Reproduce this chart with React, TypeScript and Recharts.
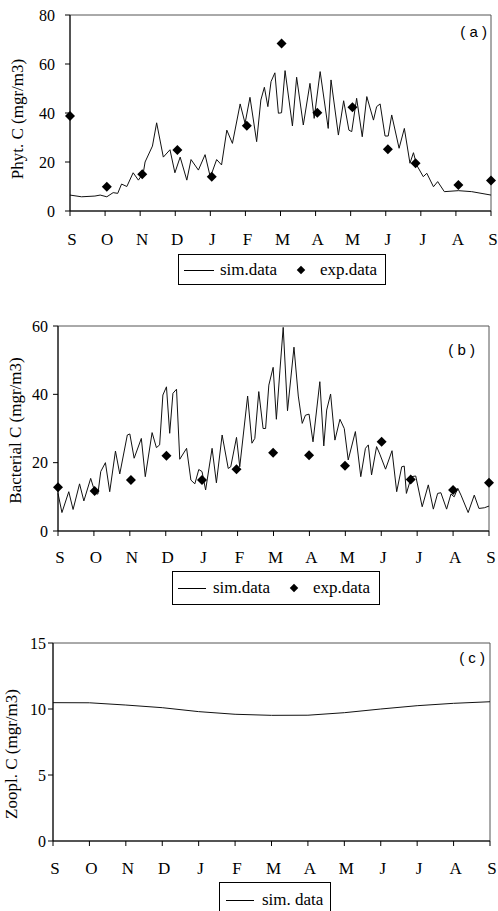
import React from 'react';
import { ComposedChart, Line, Scatter, XAxis, YAxis, ReferenceArea } from 'recharts';

// ---------- data ----------
const MONTHS = ['S', 'O', 'N', 'D', 'J', 'F', 'M', 'A', 'M', 'J', 'J', 'A', 'S'];
const MONTH_TICKS = [0, 1, 2, 3, 4, 5, 6, 7, 8, 9, 10, 11, 12];

// (a) Phytoplankton C
const simA_t = [0, 0.33, 0.71, 0.86, 1.05, 1.23, 1.36, 1.47, 1.62, 1.8, 1.95, 2.09, 2.14, 2.35, 2.47, 2.66, 2.85, 2.99, 3.14, 3.33, 3.45, 3.66, 3.85, 4.0, 4.18, 4.32, 4.47, 4.63, 4.85, 4.99, 5.13, 5.32, 5.44, 5.54, 5.64, 5.73, 5.84, 5.94, 6.03, 6.13, 6.34, 6.46, 6.65, 6.84, 6.96, 7.13, 7.36, 7.44, 7.65, 7.8, 7.95, 8.03, 8.17, 8.33, 8.46, 8.65, 8.74, 8.84, 8.98, 9.07, 9.17, 9.38, 9.53, 9.69, 9.79, 9.88, 10.07, 10.17, 10.36, 10.48, 10.67, 11.07, 11.45, 12];
const simA_v = [6.5, 5.8, 6.1, 6.5, 5.8, 7.5, 7.2, 11, 10, 15.6, 12.6, 15.6, 20, 26.5, 36, 22, 25, 15.6, 22, 12.6, 21, 16.7, 23, 13.8, 21, 18.8, 33, 27.6, 43.7, 35.8, 46.4, 28.3, 45.3, 50.5, 42.6, 52.8, 56.4, 39.9, 40.1, 57.3, 34.7, 54.6, 35.1, 52.1, 37.8, 56.9, 33.7, 53.5, 31, 45, 33, 32.4, 46, 30.3, 46.7, 37.1, 42.6, 43.7, 30.6, 30.6, 39.2, 25.6, 33.7, 19.5, 23.8, 18.8, 14, 15.4, 9.9, 12, 7.9, 8.3, 7.9, 6.5];
const expA_t = [0, 1.05, 2.06, 3.06, 4.04, 5.04, 6.03, 7.05, 8.05, 9.06, 9.85, 11.07, 12];
const expA_v = [38.8, 9.9, 15, 24.9, 14, 34.8, 68.4, 40.1, 42.3, 25.2, 19.5, 10.6, 12.4];

// (b) Bacterial C
const simB_t = [0, 0.11, 0.3, 0.42, 0.6, 0.72, 0.91, 1.04, 1.11, 1.19, 1.32, 1.44, 1.6, 1.72, 1.93, 2.0, 2.12, 2.32, 2.43, 2.62, 2.74, 2.83, 2.92, 3.02, 3.11, 3.2, 3.3, 3.39, 3.58, 3.7, 3.81, 3.92, 4.01, 4.11, 4.29, 4.41, 4.57, 4.74, 4.81, 4.97, 5.06, 5.28, 5.4, 5.48, 5.59, 5.71, 5.78, 5.87, 5.99, 6.08, 6.18, 6.27, 6.39, 6.57, 6.69, 6.8, 6.89, 6.99, 7.1, 7.29, 7.4, 7.48, 7.59, 7.71, 7.85, 7.97, 8.08, 8.28, 8.43, 8.56, 8.64, 8.73, 8.87, 8.96, 9.12, 9.3, 9.43, 9.57, 9.64, 9.7, 9.84, 9.96, 10.14, 10.31, 10.45, 10.57, 10.66, 10.82, 10.94, 11.03, 11.13, 11.22, 11.42, 11.59, 11.72, 11.87, 12];
const simB_v = [11, 5.4, 11.5, 6.3, 13.8, 8.8, 15.4, 11, 10.8, 17.4, 20, 11.5, 23.4, 16.7, 28.1, 28.4, 21.3, 27.1, 15.9, 28.8, 24.4, 25.2, 39.8, 42.2, 28.6, 40.3, 41.5, 21, 24.2, 14.9, 13.8, 18, 17.4, 12, 24.2, 14.1, 28.1, 18.3, 18.8, 27.4, 18.8, 39.5, 25.7, 27.1, 40.8, 30, 30, 42.7, 47.9, 32.7, 47.1, 59.6, 35.2, 53.8, 39.5, 31.5, 33.9, 34.2, 26.1, 43.7, 24.9, 35.4, 40.1, 26.6, 32.7, 30, 20.8, 29.1, 15.9, 24.2, 25.2, 16.4, 24.7, 22.5, 18.1, 23.5, 11.5, 18.8, 19, 11, 15.9, 16.1, 7.1, 13.5, 6.4, 11, 11.2, 6.4, 10.8, 10, 12.5, 10.5, 5.4, 10.5, 6.6, 6.8, 7.3];
const expB_t = [0, 1.02, 2.03, 3.02, 4.01, 4.97, 5.99, 6.99, 7.99, 9.01, 9.82, 11.0, 12];
const expB_v = [12.8, 11.7, 14.9, 22, 14.9, 18.1, 22.9, 22.2, 19.1, 26.1, 15.1, 12, 14.1];

// (c) Zooplankton C
const simC_t = [0, 1, 2, 3, 4, 5, 6, 7, 8, 9, 10, 11, 12];
const simC_v = [10.48, 10.47, 10.3, 10.1, 9.8, 9.6, 9.52, 9.53, 9.72, 10.0, 10.25, 10.43, 10.55];

// ---------- helpers ----------
const SERIF = "'Times New Roman', 'Liberation Serif', Times, 'DejaVu Serif', serif";
const SANS = "'Liberation Sans', Arial, sans-serif";

const toPoints = (t: number[], v: number[]) => t.map((x, i) => ({ t: x, v: v[i] }));

const DiamondShape = (props: any) => {
  const { cx, cy } = props;
  if (cx == null || cy == null) return null;
  const r = 5;
  return <path d={`M${cx},${cy - r}L${cx + r},${cy}L${cx},${cy + r}L${cx - r},${cy}Z`} fill="#000" />;
};

type PanelProps = {
  top: number;
  height: number;
  margin: { top: number; right: number; bottom: number; left: number };
  yWidth: number;
  yMax: number;
  yTicks: number[];
  yTickMargin: number;
  xHeight: number;
  xTickMargin: number;
  sim: { t: number; v: number }[];
  exp?: { t: number; v: number }[];
  yLabel: string;
  yLabelX: number;
  yLabelDy: number;
  letter: string;
  letterDx: number;
  letterDy: number;
};

function Panel(p: PanelProps) {
  return (
    <div style={{ position: 'absolute', left: 0, top: p.top, width: 498, height: p.height }}>
      <ComposedChart width={498} height={p.height} margin={p.margin} style={{ fontFamily: SERIF }}>
        <XAxis
          dataKey="t"
          type="number"
          domain={[0, 12]}
          ticks={MONTH_TICKS}
          interval={0}
          tickFormatter={(i: number) => MONTHS[i]}
          height={p.xHeight}
          tickSize={5}
          tickMargin={p.xTickMargin}
          axisLine={{ stroke: '#000' }}
          tickLine={{ stroke: '#000' }}
          tick={{ fill: '#000', fontSize: 17, dx: 2, style: { fontFamily: SERIF } }}
        />
        <YAxis
          type="number"
          domain={[0, p.yMax]}
          ticks={p.yTicks}
          interval={0}
          width={p.yWidth}
          tickSize={5}
          tickMargin={p.yTickMargin}
          axisLine={{ stroke: '#000' }}
          tickLine={{ stroke: '#000' }}
          tick={{ fill: '#000', fontSize: 16, style: { fontFamily: SERIF } }}
          label={{
            content: (lp: any) => {
              const vb = lp.viewBox || { y: 0, height: 0 };
              const cx = p.yLabelX;
              const cy = vb.y + vb.height / 2 + p.yLabelDy;
              return (
                <text
                  x={cx}
                  y={cy}
                  transform={`rotate(-90 ${cx} ${cy})`}
                  textAnchor="middle"
                  dominantBaseline="central"
                  fontSize={17}
                  fill="#000"
                  style={{ fontFamily: SERIF }}
                >
                  {p.yLabel}
                </text>
              );
            },
          }}
        />
        <ReferenceArea
          x1={0}
          x2={12}
          y1={0}
          y2={p.yMax}
          fill="none"
          stroke="#555"
          strokeWidth={1}
          ifOverflow="visible"
          label={{
            content: (lp: any) => {
              const vb = lp.viewBox || { x: 0, y: 0, width: 0 };
              return (
                <text
                  x={vb.x + vb.width - p.letterDx}
                  y={vb.y + p.letterDy}
                  textAnchor="end"
                  fontSize={15}
                  fill="#000"
                  style={{ whiteSpace: 'pre', fontFamily: SANS }}
                >
                  {p.letter}
                </text>
              );
            },
          }}
        />
        <Line
          data={p.sim}
          dataKey="v"
          type="linear"
          stroke="#111"
          strokeWidth={1}
          dot={false}
          activeDot={false}
          isAnimationActive={false}
        />
        {p.exp ? (
          <Scatter data={p.exp} dataKey="v" shape={DiamondShape} isAnimationActive={false} />
        ) : null}
      </ComposedChart>
    </div>
  );
}

const legendText: React.CSSProperties = {
  position: 'absolute',
  fontFamily: SERIF,
  fontSize: 17,
  color: '#000',
  lineHeight: '17px',
  whiteSpace: 'nowrap',
};

function LegendBox(props: {
  left: number;
  top: number;
  width: number;
  height: number;
  simLabel: string;
  lineX: number;
  lineW: number;
  textX: number;
  diamondX?: number;
  expX?: number;
}) {
  const mid = props.height / 2;
  return (
    <div
      style={{
        position: 'absolute',
        left: props.left,
        top: props.top,
        width: props.width,
        height: props.height,
        border: '1px solid #000',
        background: '#fff',
        boxSizing: 'border-box',
      }}
    >
      <div
        style={{
          position: 'absolute',
          left: props.lineX,
          top: mid - 1,
          width: props.lineW,
          height: 0,
          borderTop: '1px solid #000',
        }}
      />
      <div style={{ ...legendText, left: props.textX, top: mid - 10 }}>{props.simLabel}</div>
      {props.diamondX != null ? (
        <div
          style={{
            position: 'absolute',
            left: props.diamondX - 3,
            top: mid - 4,
            width: 6,
            height: 6,
            background: '#000',
            transform: 'rotate(45deg)',
          }}
        />
      ) : null}
      {props.expX != null ? (
        <div style={{ ...legendText, left: props.expX, top: mid - 10 }}>exp.data</div>
      ) : null}
    </div>
  );
}

export default function App() {
  const simA = toPoints(simA_t, simA_v);
  const expA = toPoints(expA_t, expA_v);
  const simB = toPoints(simB_t, simB_v);
  const expB = toPoints(expB_t, expB_v);
  const simC = toPoints(simC_t, simC_v);

  return (
    <div style={{ position: 'absolute', left: 0, top: 0, width: 498, height: 911, background: '#fff', overflow: 'hidden' }}>
      <Panel
        top={0}
        height={250}
        margin={{ top: 15, right: 7, bottom: 0, left: 0 }}
        yWidth={70}
        yMax={80}
        yTicks={[0, 20, 40, 60, 80]}
        yTickMargin={10}
        xHeight={39}
        xTickMargin={17}
        sim={simA}
        exp={expA}
        yLabel="Phyt. C (mgr/m3)"
        yLabelX={17}
        yLabelDy={6}
        letter="( a )"
        letterDx={4}
        letterDy={22}
      />
      <LegendBox left={178} top={254} width={208} height={31} simLabel="sim.data" lineX={5} lineW={30} textX={41} diamondX={122} expX={141} />

      <Panel
        top={300}
        height={270}
        margin={{ top: 26, right: 9, bottom: 0, left: 0 }}
        yWidth={58}
        yMax={60}
        yTicks={[0, 20, 40, 60]}
        yTickMargin={5}
        xHeight={39}
        xTickMargin={15}
        sim={simB}
        exp={expB}
        yLabel="Bacterial C (mgr/m3)"
        yLabelX={15}
        yLabelDy={2}
        letter="( b )"
        letterDx={14}
        letterDy={29}
      />
      <LegendBox left={172} top={571} width={208} height={34} simLabel="sim.data" lineX={5} lineW={28} textX={40} diamondX={121} expX={140} />

      <Panel
        top={620}
        height={270}
        margin={{ top: 23, right: 8, bottom: 0, left: 0 }}
        yWidth={53}
        yMax={15}
        yTicks={[0, 5, 10, 15]}
        yTickMargin={2}
        xHeight={49}
        xTickMargin={16}
        sim={simC}
        yLabel="Zoopl. C (mgr/m3)"
        yLabelX={11}
        yLabelDy={12}
        letter="( c )"
        letterDx={5}
        letterDy={20}
      />
      <LegendBox left={219} top={882} width={112} height={36} simLabel="sim. data" lineX={6} lineW={28} textX={42} />
    </div>
  );
}
